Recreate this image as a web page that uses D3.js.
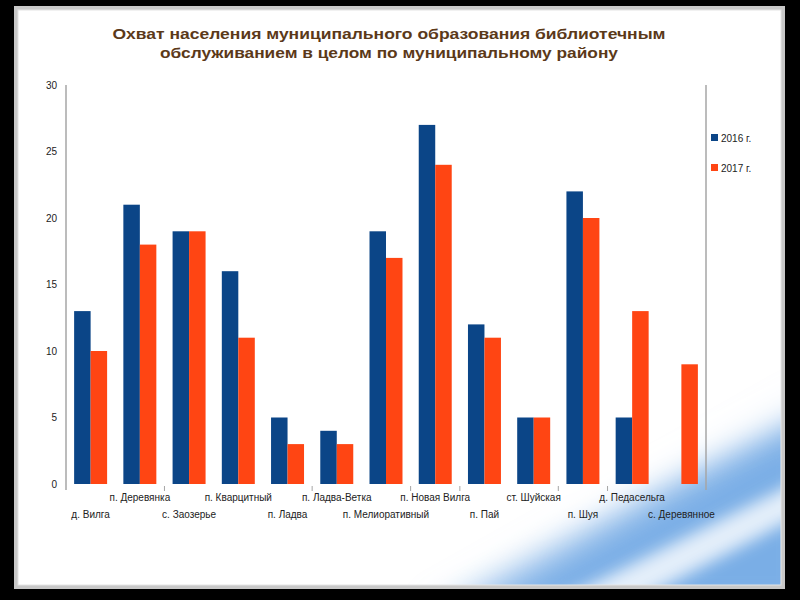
<!DOCTYPE html>
<html><head><meta charset="utf-8">
<script src="https://cdn.jsdelivr.net/npm/d3@7"></script>
<style>html,body{margin:0;padding:0;background:#000;}svg{display:block;}</style>
</head><body>
<script>
const categories = ["д. Вилга","п. Деревянка","с. Заозерье","п. Кварцитный","п. Ладва","п. Ладва-Ветка","п. Мелиоративный","п. Новая Вилга","п. Пай","ст. Шуйская","п. Шуя","д. Педасельга","с. Деревянное"];
const values2016 = [13,21,19,16,5,4,19,27,12,5,22,5,null];
const values2017 = [10,18,19,11,3,3,17,24,11,5,20,13,9];
const seriesNames = ["2016 г.","2017 г."];
const yTicks = [0,5,10,15,20,25,30];
const tickBoundaries = [2,5,7,8,10,11];
const titleLines = ["Охват населения муниципального образования библиотечным","обслуживанием в целом по муниципальному району"];

const W=800,H=600;
const svg=d3.select("body").append("svg").attr("width",W).attr("height",H);
const defs=svg.append("defs");
const blur=defs.append("filter").attr("id","bl").attr("x","-50%").attr("y","-50%").attr("width","200%").attr("height","200%");
blur.append("feGaussianBlur").attr("stdDeviation",18);
const blur2=defs.append("filter").attr("id","bl2").attr("x","-50%").attr("y","-50%").attr("width","200%").attr("height","200%");
blur2.append("feGaussianBlur").attr("stdDeviation",8);
defs.append("clipPath").attr("id","slide").append("rect").attr("x",18).attr("y",10).attr("width",763).attr("height",575);

svg.append("rect").attr("width",W).attr("height",H).attr("fill","#000");
svg.append("rect").attr("x",16).attr("y",8).attr("width",767).attr("height",579).attr("fill","#fff").attr("stroke","#c8c8c8").attr("stroke-width",4);
const sw=svg.append("g").attr("clip-path","url(#slide)");
sw.append("path").attr("d","M430,620 L820,400 L820,620 Z").attr("fill","#7aaee6").attr("filter","url(#bl)");
sw.append("path").attr("d","M520,620 L820,470 L820,505 L600,620 Z").attr("fill","#ffffff").attr("opacity",0.8).attr("filter","url(#bl2)");
sw.append("path").attr("d","M300,620 L820,395 L820,360 L260,620 Z").attr("fill","#ffffff").attr("filter","url(#bl)");
svg.append("rect").attr("x",18).attr("y",10).attr("width",763).attr("height",575).attr("fill","none").attr("stroke","#e4e4e4").attr("stroke-width",1);

// title
svg.append("g").selectAll("text").data(titleLines).join("text")
  .attr("x",389).attr("y",(d,i)=>39+i*19).attr("text-anchor","middle")
  .attr("font-family","Liberation Sans, Arial, sans-serif").attr("font-weight","bold").attr("font-size",15.5)
  .attr("fill","#5b3919").text(d=>d)
  .each(function(d,i){ const L=[553,458][i]; d3.select(this).attr("textLength",L).attr("lengthAdjust","spacingAndGlyphs"); });

const x=d3.scaleBand().domain(categories).range([66,706]).paddingInner(0.33).paddingOuter(0.165);
const xs=d3.scaleBand().domain(seriesNames).range([0,x.bandwidth()]);
const y=d3.scaleLinear().domain([0,30]).range([484,85]);
const colors=["#0b4587","#ff4513"];
const step=x.step();

// axes lines
svg.append("line").attr("x1",66).attr("x2",66).attr("y1",85).attr("y2",490).attr("stroke","#a6a6a6").attr("stroke-width",1.5);
svg.append("line").attr("x1",706).attr("x2",706).attr("y1",85).attr("y2",490).attr("stroke","#a6a6a6").attr("stroke-width",1.5);
svg.append("g").selectAll("line").data(tickBoundaries).join("line")
  .attr("x1",d=>66+d*step).attr("x2",d=>66+d*step).attr("y1",486).attr("y2",491).attr("stroke","#a6a6a6");

// y labels
svg.append("g").selectAll("text").data(yTicks).join("text")
  .attr("x",57).attr("y",d=>y(d)+3.5).attr("text-anchor","end")
  .attr("font-family","Liberation Sans Narrow, Liberation Sans, Arial, sans-serif").attr("font-size",10).attr("fill","#222").text(d=>d);

// bars
const data=categories.map((c,i)=>({c,vals:[values2016[i],values2017[i]]}));
const grp=svg.append("g").selectAll("g").data(data).join("g").attr("transform",d=>`translate(${x(d.c)},0)`);
grp.selectAll("rect").data(d=>d.vals.map((v,j)=>({v,j})).filter(e=>e.v!=null)).join("rect")
  .attr("x",e=>xs(seriesNames[e.j])).attr("width",xs.bandwidth())
  .attr("y",e=>y(e.v)).attr("height",e=>y(0)-y(e.v)).attr("fill",e=>colors[e.j]);

// x labels
svg.append("g").selectAll("text").data(categories).join("text")
  .attr("x",d=>x(d)+x.bandwidth()/2).attr("y",(d,i)=>i%2===1?501:518).attr("text-anchor","middle")
  .attr("font-family","Liberation Sans, Arial, sans-serif").attr("font-size",10).attr("fill","#222").text(d=>d);

// legend
const lg=svg.append("g").selectAll("g").data(seriesNames).join("g").attr("transform",(d,i)=>`translate(711,${134+i*30})`);
lg.append("rect").attr("width",7).attr("height",7).attr("fill",(d,i)=>colors[i]);
lg.append("text").attr("x",10).attr("y",7.5).attr("font-family","Liberation Sans, Arial, sans-serif").attr("font-size",10).attr("fill","#222").text(d=>d);
</script>
</body></html>
